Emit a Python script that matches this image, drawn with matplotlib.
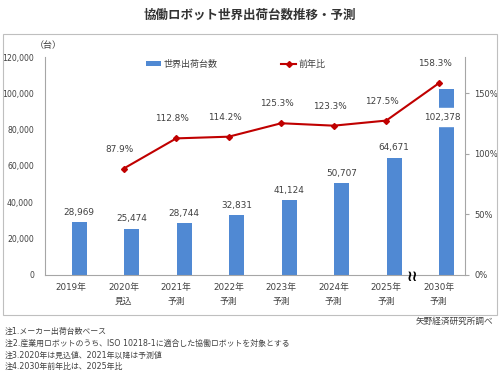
import numpy as np
import matplotlib.pyplot as plt
from matplotlib.patches import Rectangle

plt.rcParams['font.family'] = ['DejaVu Sans', 'Noto Sans CJK JP']

# data
years = ['2019年', '2020年\n見込', '2021年\n予測', '2022年\n予測', '2023年\n予測',
         '2024年\n予測', '2025年\n予測', '2030年\n予測']
units = [28969, 25474, 28744, 32831, 41124, 50707, 64671, 102378]
yoy = [np.nan, 87.9, 112.8, 114.2, 125.3, 123.3, 127.5, 158.3]
notes = ['注1.メーカー出荷台数ベース',
         '注2.産業用ロボットのうち、ISO 10218-1に適合した協働ロボットを対象とする',
         '注3.2020年は見込値、2021年以降は予測値',
         '注4.2030年前年比は、2025年比']

blue = '#5089D3'
red = '#C00000'
grey = '#A6A6A6'
txt = '#404040'

fig = plt.figure(figsize=(5, 3.77), dpi=100)
ax = fig.add_axes([0.09, 0.2706, 0.84, 0.5782])
ax2 = ax.twinx()

x = np.arange(len(years))
bx = x + 0.15
bars = ax.bar(bx, units, width=0.29, color=blue, zorder=2, label='世界出荷台数')
ax.set_xlim(-0.5, len(years) - 0.5)
ax.set_ylim(0, 120000)
ax.set_yticks(np.arange(0, 120001, 20000))
ax.set_yticklabels([f'{v:,}' for v in range(0, 120001, 20000)])
ax.set_xticks(x)
ax.set_xticklabels(years, linespacing=1.6)
ax.tick_params(axis='y', length=0, labelsize=5.6, labelcolor=txt, pad=8)
ax.tick_params(axis='x', length=0, labelsize=6.3, labelcolor=txt, pad=6)
for s in ['top', 'right']:
    ax.spines[s].set_visible(False)
for s in ['left', 'bottom']:
    ax.spines[s].set_color(grey)
    ax.spines[s].set_linewidth(0.8)

# break on the 2030 bar
last = len(units) - 1
ax.add_patch(Rectangle((bx[last] - 0.16, 82000), 0.32, 10000, color='white', zorder=3))
for i, v in enumerate(units):
    if i == last:
        ax.text(bx[i] - 0.08, 86500, f'{v:,}', ha='center', va='center',
                fontsize=6.4, color=txt, zorder=4)
    else:
        ax.annotate(f'{v:,}', (bx[i], v), xytext=(0, 7), textcoords='offset points',
                    ha='center', va='center', fontsize=6.4, color=txt)
ax.text(last - 0.5, -1000, '≀≀', ha='center', va='center', fontsize=11,
        fontweight='bold', color='black', zorder=5)

ax2.plot(x, yoy, color=red, lw=1.5, marker='D', ms=3, zorder=4, label='前年比')
ax2.set_ylim(0, 180)
ax2.set_yticks([0, 50, 100, 150])
ax2.set_yticklabels(['0%', '50%', '100%', '150%'])
ax2.tick_params(axis='y', length=3, color=grey, labelsize=6, labelcolor=txt)
for s in ['top', 'left', 'bottom']:
    ax2.spines[s].set_visible(False)
ax2.spines['right'].set_color(grey)
ax2.spines['right'].set_linewidth(0.8)
for i, v in enumerate(yoy):
    if not np.isnan(v):
        ax2.annotate(f'{v:.1f}%', (x[i], v), xytext=(-3, 14), textcoords='offset points',
                     ha='center', va='center', fontsize=6.4, color=txt)

h1, l1 = ax.get_legend_handles_labels()
h2, l2 = ax2.get_legend_handles_labels()
fig.legend(h1 + h2, l1 + l2, ncol=2, loc='center left', bbox_to_anchor=(0.275, 0.83),
           frameon=False, fontsize=6.5, handlelength=1.7, handleheight=0.5,
           columnspacing=7.0, handletextpad=0.3, labelcolor=txt)

ax.text(-0.025, 1.03, '（台）', transform=ax.transAxes, ha='left', va='bottom',
        fontsize=6.5, color=txt)

fig.text(0.5, 0.96, '協働ロボット世界出荷台数推移・予測', ha='center', va='center',
         fontsize=9, fontweight='bold', color='#333333')
fig.patches.append(Rectangle((0.006, 0.1645), 0.988, 0.7453, transform=fig.transFigure,
                             fill=False, edgecolor='#BFBFBF', lw=0.8))
fig.text(0.986, 0.148, '矢野経済研究所調べ', ha='right', va='center', fontsize=6.2, color=txt)
for k, n in enumerate(notes):
    fig.text(0.01, 0.12 - k * 0.031, n, ha='left', va='center', fontsize=5.7, color=txt)

fig.savefig('out.png', dpi=100)
